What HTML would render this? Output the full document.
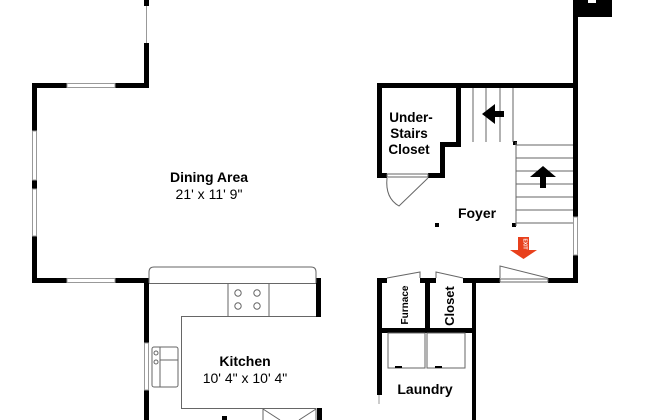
<!DOCTYPE html>
<html><head><style>body{margin:0;background:#fff}svg{display:block}</style></head><body>
<svg width="650" height="420" viewBox="0 0 650 420" xmlns="http://www.w3.org/2000/svg" font-family="Liberation Sans, sans-serif">
<rect width="650" height="420" fill="#fff"/>
<g fill="#000">
<!-- dining walls -->
<rect x="144" y="0" width="5" height="6"/>
<rect x="144" y="43" width="5" height="45"/>
<rect x="32" y="83" width="35" height="5"/>
<rect x="115" y="83" width="34" height="5"/>
<rect x="32" y="83" width="5" height="48"/>
<rect x="32" y="180" width="5" height="9"/>
<rect x="32" y="236" width="5" height="47"/>
<rect x="32" y="278" width="35" height="5"/>
<rect x="115" y="278" width="34" height="5"/>
<rect x="144" y="278" width="5" height="65"/>
<rect x="144" y="390" width="5" height="30"/>
<rect x="316" y="278" width="5" height="39"/>
<rect x="317" y="408" width="5" height="12"/>
<rect x="222" y="416" width="5" height="4"/>
<!-- right part -->
<rect x="573" y="0" width="39" height="17"/>
<rect x="573" y="0" width="5" height="217"/>
<rect x="573" y="255" width="5" height="28"/>
<rect x="377" y="83" width="201" height="5"/>
<rect x="377" y="83" width="5" height="95"/>
<rect x="456" y="83" width="5" height="64"/>
<rect x="440" y="142" width="21" height="5"/>
<rect x="440" y="142" width="5" height="36"/>
<rect x="377" y="173" width="10" height="5"/>
<rect x="428" y="173" width="17" height="5"/>
<rect x="513" y="141" width="4" height="4"/>
<rect x="435" y="223" width="4" height="4"/>
<rect x="512" y="223" width="4" height="4"/>
<!-- foyer bottom -->
<rect x="377" y="278" width="10" height="5"/>
<rect x="420" y="278" width="16" height="5"/>
<rect x="463" y="278" width="37" height="5"/>
<rect x="548" y="278" width="30" height="5"/>
<rect x="377" y="278" width="5" height="117"/>
<rect x="425" y="278" width="5" height="55"/>
<rect x="472" y="278" width="4" height="142"/>
<rect x="377" y="328" width="99" height="5"/>
</g>
<rect x="588" y="0" width="8" height="3" fill="#fff"/>
<g fill="none" stroke="#999" stroke-width="1">
<!-- windows -->
<line x1="146.5" y1="6" x2="146.5" y2="43"/>
<rect x="67" y="83.5" width="48" height="4"/>
<rect x="67" y="278.5" width="48" height="4"/>
<rect x="32.5" y="131" width="4" height="49"/>
<rect x="32.5" y="189" width="4" height="47"/>
<rect x="144.5" y="343" width="4" height="47"/>
<rect x="573.5" y="217" width="4" height="38"/>
<line x1="379" y1="395" x2="379" y2="404"/>
</g>
<g fill="none" stroke="#666" stroke-width="1">
<!-- counter -->
<path d="M149,283 V272 Q149,267 154,267 H311 Q316,267 316,272 V283"/>
<line x1="149" y1="283.5" x2="316" y2="283.5"/>
<path d="M316,316.5 H181.5 V408.5 H263"/>
<rect x="228" y="283.5" width="41" height="33"/>
<circle cx="238" cy="293" r="3.2"/><circle cx="257" cy="293" r="3.2"/>
<circle cx="238" cy="306" r="3.2"/><circle cx="257" cy="306" r="3.2"/>
<rect x="152" y="347" width="26" height="40" rx="2"/>
<line x1="160" y1="360" x2="178" y2="360"/>
<line x1="160" y1="347" x2="160" y2="387"/>
<circle cx="156" cy="353" r="2"/><circle cx="156" cy="362" r="2"/>
<rect x="263" y="408.5" width="53" height="12"/>
<path d="M263,409 L280,420 M316,409 L299,420"/>
<!-- stairs -->
<line x1="473" y1="88" x2="473" y2="142"/>
<line x1="486" y1="88" x2="486" y2="142"/>
<line x1="500" y1="88" x2="500" y2="142"/>
<line x1="513" y1="88" x2="513" y2="142"/>
<line x1="516" y1="142" x2="516" y2="226"/>
<line x1="516" y1="145" x2="573" y2="145"/>
<line x1="516" y1="158" x2="573" y2="158"/>
<line x1="516" y1="171" x2="573" y2="171"/>
<line x1="516" y1="184" x2="573" y2="184"/>
<line x1="516" y1="197" x2="573" y2="197"/>
<line x1="516" y1="210" x2="573" y2="210"/>
<line x1="516" y1="223" x2="573" y2="223"/>
<!-- doors -->
<rect x="387" y="174" width="41" height="3"/>
<path d="M387,178 Q385,198 399,206 L428,178"/>
<path d="M387,278 L420,272 V278"/>
<path d="M436,278 V272 L463,278"/>
<path d="M500,278 V266 L548,278"/>
<rect x="500" y="279" width="48" height="3"/>
<rect x="388" y="333" width="37" height="35"/>
<rect x="427" y="333" width="38" height="35"/>
</g>
<rect x="395" y="366" width="7" height="2"/>
<rect x="435" y="366" width="7" height="2"/>
<!-- arrows -->
<path d="M482,114 L495,104 V111 H504 V117 H495 V124 Z" fill="#000"/>
<path d="M530,177 L543,166 L556,177 H546 V188 H540 V177 Z" fill="#000"/>
<path d="M518,237 H529 V250 H537 L523.5,259 L510,250 H518 Z" fill="#e8401c"/>
<text x="523.5" y="244" font-size="5" fill="#fff" font-weight="bold" text-anchor="middle" transform="rotate(90 523.5 244)">EXIT</text>
<g text-anchor="middle" fill="#000">
<text x="209" y="182" font-size="14" font-weight="bold">Dining Area</text>
<text x="209" y="199" font-size="14">21' x 11' 9"</text>
<text x="245" y="366" font-size="14" font-weight="bold">Kitchen</text>
<text x="245" y="383" font-size="14">10' 4" x 10' 4"</text>
<text x="411" y="122" font-size="13.5" font-weight="bold">Under-</text>
<text x="409" y="138" font-size="13.5" font-weight="bold">Stairs</text>
<text x="409" y="154" font-size="13.5" font-weight="bold">Closet</text>
<text x="477" y="218" font-size="14" font-weight="bold">Foyer</text>
<text x="425" y="394" font-size="14" font-weight="bold">Laundry</text>
<text x="0" y="0" font-size="10" font-weight="bold" transform="translate(408 305) rotate(-90)">Furnace</text>
<text x="0" y="0" font-size="13" font-weight="bold" transform="translate(454 306) rotate(-90)">Closet</text>
</g>
</svg>
</body></html>
